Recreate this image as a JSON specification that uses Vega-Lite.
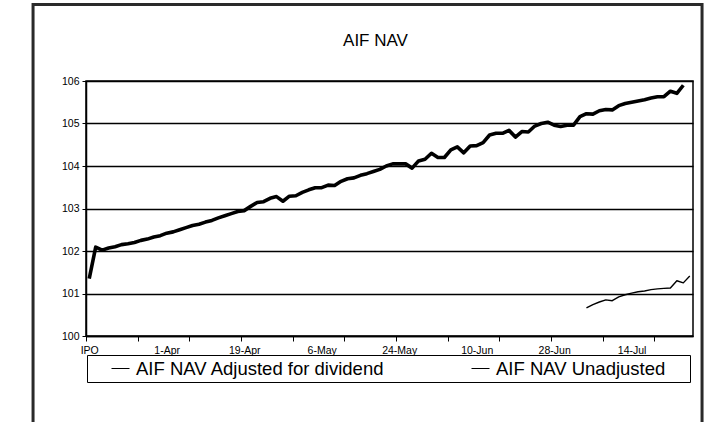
{
  "$schema": "https://vega.github.io/schema/vega-lite/v6.json",
  "autosize": {"type": "none"},
  "width": 607,
  "height": 255,
  "padding": {"left": 86, "top": 81, "right": 13, "bottom": 86},
  "background": "white",
  "config": {
    "font": "Liberation Sans",
    "view": {"stroke": "#000", "strokeWidth": 1.5}
  },
  "title": {
    "text": "AIF NAV",
    "fontSize": 17,
    "fontWeight": "normal",
    "color": "#000",
    "anchor": "middle",
    "baseline": "alphabetic",
    "offset": -60,
    "dx": -14
  },
  "resolve": {"axis": {"x": "independent"}},
  "datasets": {
    "nav": [
      {"series": "AIF NAV Adjusted for dividend", "i": 0, "nav": 101.35},
      {"series": "AIF NAV Adjusted for dividend", "i": 1, "nav": 102.09},
      {"series": "AIF NAV Adjusted for dividend", "i": 2, "nav": 102.02},
      {"series": "AIF NAV Adjusted for dividend", "i": 3, "nav": 102.07},
      {"series": "AIF NAV Adjusted for dividend", "i": 4, "nav": 102.1},
      {"series": "AIF NAV Adjusted for dividend", "i": 5, "nav": 102.15},
      {"series": "AIF NAV Adjusted for dividend", "i": 6, "nav": 102.17},
      {"series": "AIF NAV Adjusted for dividend", "i": 7, "nav": 102.2},
      {"series": "AIF NAV Adjusted for dividend", "i": 8, "nav": 102.25},
      {"series": "AIF NAV Adjusted for dividend", "i": 9, "nav": 102.28},
      {"series": "AIF NAV Adjusted for dividend", "i": 10, "nav": 102.33},
      {"series": "AIF NAV Adjusted for dividend", "i": 11, "nav": 102.36},
      {"series": "AIF NAV Adjusted for dividend", "i": 12, "nav": 102.42},
      {"series": "AIF NAV Adjusted for dividend", "i": 13, "nav": 102.45},
      {"series": "AIF NAV Adjusted for dividend", "i": 14, "nav": 102.5},
      {"series": "AIF NAV Adjusted for dividend", "i": 15, "nav": 102.55},
      {"series": "AIF NAV Adjusted for dividend", "i": 16, "nav": 102.6},
      {"series": "AIF NAV Adjusted for dividend", "i": 17, "nav": 102.63},
      {"series": "AIF NAV Adjusted for dividend", "i": 18, "nav": 102.68},
      {"series": "AIF NAV Adjusted for dividend", "i": 19, "nav": 102.72},
      {"series": "AIF NAV Adjusted for dividend", "i": 20, "nav": 102.78},
      {"series": "AIF NAV Adjusted for dividend", "i": 21, "nav": 102.83},
      {"series": "AIF NAV Adjusted for dividend", "i": 22, "nav": 102.88},
      {"series": "AIF NAV Adjusted for dividend", "i": 23, "nav": 102.93},
      {"series": "AIF NAV Adjusted for dividend", "i": 24, "nav": 102.95},
      {"series": "AIF NAV Adjusted for dividend", "i": 25, "nav": 103.05},
      {"series": "AIF NAV Adjusted for dividend", "i": 26, "nav": 103.14},
      {"series": "AIF NAV Adjusted for dividend", "i": 27, "nav": 103.16},
      {"series": "AIF NAV Adjusted for dividend", "i": 28, "nav": 103.24},
      {"series": "AIF NAV Adjusted for dividend", "i": 29, "nav": 103.28},
      {"series": "AIF NAV Adjusted for dividend", "i": 30, "nav": 103.17},
      {"series": "AIF NAV Adjusted for dividend", "i": 31, "nav": 103.29},
      {"series": "AIF NAV Adjusted for dividend", "i": 32, "nav": 103.3},
      {"series": "AIF NAV Adjusted for dividend", "i": 33, "nav": 103.38},
      {"series": "AIF NAV Adjusted for dividend", "i": 34, "nav": 103.44},
      {"series": "AIF NAV Adjusted for dividend", "i": 35, "nav": 103.49},
      {"series": "AIF NAV Adjusted for dividend", "i": 36, "nav": 103.49},
      {"series": "AIF NAV Adjusted for dividend", "i": 37, "nav": 103.55},
      {"series": "AIF NAV Adjusted for dividend", "i": 38, "nav": 103.54},
      {"series": "AIF NAV Adjusted for dividend", "i": 39, "nav": 103.64},
      {"series": "AIF NAV Adjusted for dividend", "i": 40, "nav": 103.7},
      {"series": "AIF NAV Adjusted for dividend", "i": 41, "nav": 103.72},
      {"series": "AIF NAV Adjusted for dividend", "i": 42, "nav": 103.78},
      {"series": "AIF NAV Adjusted for dividend", "i": 43, "nav": 103.82},
      {"series": "AIF NAV Adjusted for dividend", "i": 44, "nav": 103.87},
      {"series": "AIF NAV Adjusted for dividend", "i": 45, "nav": 103.92},
      {"series": "AIF NAV Adjusted for dividend", "i": 46, "nav": 104.0},
      {"series": "AIF NAV Adjusted for dividend", "i": 47, "nav": 104.05},
      {"series": "AIF NAV Adjusted for dividend", "i": 48, "nav": 104.05},
      {"series": "AIF NAV Adjusted for dividend", "i": 49, "nav": 104.05},
      {"series": "AIF NAV Adjusted for dividend", "i": 50, "nav": 103.95},
      {"series": "AIF NAV Adjusted for dividend", "i": 51, "nav": 104.12},
      {"series": "AIF NAV Adjusted for dividend", "i": 52, "nav": 104.16},
      {"series": "AIF NAV Adjusted for dividend", "i": 53, "nav": 104.3},
      {"series": "AIF NAV Adjusted for dividend", "i": 54, "nav": 104.2},
      {"series": "AIF NAV Adjusted for dividend", "i": 55, "nav": 104.2},
      {"series": "AIF NAV Adjusted for dividend", "i": 56, "nav": 104.38},
      {"series": "AIF NAV Adjusted for dividend", "i": 57, "nav": 104.45},
      {"series": "AIF NAV Adjusted for dividend", "i": 58, "nav": 104.31},
      {"series": "AIF NAV Adjusted for dividend", "i": 59, "nav": 104.47},
      {"series": "AIF NAV Adjusted for dividend", "i": 60, "nav": 104.48},
      {"series": "AIF NAV Adjusted for dividend", "i": 61, "nav": 104.55},
      {"series": "AIF NAV Adjusted for dividend", "i": 62, "nav": 104.73},
      {"series": "AIF NAV Adjusted for dividend", "i": 63, "nav": 104.77},
      {"series": "AIF NAV Adjusted for dividend", "i": 64, "nav": 104.77},
      {"series": "AIF NAV Adjusted for dividend", "i": 65, "nav": 104.84},
      {"series": "AIF NAV Adjusted for dividend", "i": 66, "nav": 104.68},
      {"series": "AIF NAV Adjusted for dividend", "i": 67, "nav": 104.81},
      {"series": "AIF NAV Adjusted for dividend", "i": 68, "nav": 104.8},
      {"series": "AIF NAV Adjusted for dividend", "i": 69, "nav": 104.94},
      {"series": "AIF NAV Adjusted for dividend", "i": 70, "nav": 105.0},
      {"series": "AIF NAV Adjusted for dividend", "i": 71, "nav": 105.03},
      {"series": "AIF NAV Adjusted for dividend", "i": 72, "nav": 104.96},
      {"series": "AIF NAV Adjusted for dividend", "i": 73, "nav": 104.93},
      {"series": "AIF NAV Adjusted for dividend", "i": 74, "nav": 104.96},
      {"series": "AIF NAV Adjusted for dividend", "i": 75, "nav": 104.96},
      {"series": "AIF NAV Adjusted for dividend", "i": 76, "nav": 105.16},
      {"series": "AIF NAV Adjusted for dividend", "i": 77, "nav": 105.23},
      {"series": "AIF NAV Adjusted for dividend", "i": 78, "nav": 105.22},
      {"series": "AIF NAV Adjusted for dividend", "i": 79, "nav": 105.3},
      {"series": "AIF NAV Adjusted for dividend", "i": 80, "nav": 105.33},
      {"series": "AIF NAV Adjusted for dividend", "i": 81, "nav": 105.32},
      {"series": "AIF NAV Adjusted for dividend", "i": 82, "nav": 105.42},
      {"series": "AIF NAV Adjusted for dividend", "i": 83, "nav": 105.47},
      {"series": "AIF NAV Adjusted for dividend", "i": 84, "nav": 105.5},
      {"series": "AIF NAV Adjusted for dividend", "i": 85, "nav": 105.53},
      {"series": "AIF NAV Adjusted for dividend", "i": 86, "nav": 105.56},
      {"series": "AIF NAV Adjusted for dividend", "i": 87, "nav": 105.6},
      {"series": "AIF NAV Adjusted for dividend", "i": 88, "nav": 105.63},
      {"series": "AIF NAV Adjusted for dividend", "i": 89, "nav": 105.63},
      {"series": "AIF NAV Adjusted for dividend", "i": 90, "nav": 105.76},
      {"series": "AIF NAV Adjusted for dividend", "i": 91, "nav": 105.71},
      {"series": "AIF NAV Adjusted for dividend", "i": 92, "nav": 105.9},
      {"series": "AIF NAV Unadjusted", "i": 77, "nav": 100.66},
      {"series": "AIF NAV Unadjusted", "i": 78, "nav": 100.74},
      {"series": "AIF NAV Unadjusted", "i": 79, "nav": 100.8},
      {"series": "AIF NAV Unadjusted", "i": 80, "nav": 100.85},
      {"series": "AIF NAV Unadjusted", "i": 81, "nav": 100.83},
      {"series": "AIF NAV Unadjusted", "i": 82, "nav": 100.92},
      {"series": "AIF NAV Unadjusted", "i": 83, "nav": 100.97},
      {"series": "AIF NAV Unadjusted", "i": 84, "nav": 101.01},
      {"series": "AIF NAV Unadjusted", "i": 85, "nav": 101.04},
      {"series": "AIF NAV Unadjusted", "i": 86, "nav": 101.06},
      {"series": "AIF NAV Unadjusted", "i": 87, "nav": 101.09},
      {"series": "AIF NAV Unadjusted", "i": 88, "nav": 101.11},
      {"series": "AIF NAV Unadjusted", "i": 89, "nav": 101.12},
      {"series": "AIF NAV Unadjusted", "i": 90, "nav": 101.13},
      {"series": "AIF NAV Unadjusted", "i": 91, "nav": 101.3},
      {"series": "AIF NAV Unadjusted", "i": 92, "nav": 101.25},
      {"series": "AIF NAV Unadjusted", "i": 93, "nav": 101.41}
    ]
  },
  "layer": [
    {
      "data": {"values": [{}]},
      "mark": {"type": "rect", "fill": null, "stroke": "#2a2a2a", "strokeWidth": 3, "clip": false},
      "encoding": {
        "x": {
          "datum": -8.7,
          "type": "quantitative",
          "scale": {"domain": [-0.5, 93.5], "nice": false, "zero": false},
          "axis": {
            "orient": "bottom",
            "title": null,
            "values": [-0.5, 7.5, 15.5, 23.5, 31.5, 39.5, 47.5, 55.5, 63.5, 71.5, 79.5, 87.5],
            "labels": false,
            "domain": false,
            "grid": false,
            "ticks": true,
            "tickSize": 5,
            "tickColor": "#000",
            "tickWidth": 1
          }
        },
        "x2": {"datum": 94.9},
        "y": {"datum": 107.8, "type": "quantitative", "title": null, "scale": {"domain": [100, 106], "nice": false, "zero": false}},
        "y2": {"datum": 96}
      }
    },
    {
      "data": {"name": "nav"},
      "transform": [{"filter": "datum.series == 'AIF NAV Unadjusted'"}],
      "mark": {"type": "line", "strokeJoin": "round", "strokeWidth": 1.4, "clip": true},
      "encoding": {
        "x": {
          "field": "i",
          "type": "quantitative",
          "title": null,
          "scale": {"domain": [-0.5, 93.5], "nice": false, "zero": false},
          "axis": {
            "orient": "bottom",
            "values": [0, 12, 24, 36, 48, 60, 72, 84],
            "labelExpr": "datum.value == 0 ? 'IPO' : datum.value == 12 ? '1-Apr' : datum.value == 24 ? '19-Apr' : datum.value == 36 ? '6-May' : datum.value == 48 ? '24-May' : datum.value == 60 ? '10-Jun' : datum.value == 72 ? '28-Jun' : '14-Jul'",
            "ticks": false,
            "domainColor": "#000",
            "domainWidth": 1.5,
            "labelFontSize": 10.5,
            "labelColor": "#000",
            "labelPadding": 9,
            "labelOverlap": false,
            "labelFlush": false,
            "grid": false
          }
        },
        "y": {
          "field": "nav",
          "type": "quantitative",
          "title": null,
          "scale": {"domain": [100, 106], "nice": false, "zero": false},
          "axis": {
            "values": [100, 101, 102, 103, 104, 105, 106],
            "grid": true,
            "gridColor": "#000",
            "gridWidth": 1.4,
            "gridOpacity": 1,
            "tickSize": 4,
            "tickColor": "#000",
            "domainColor": "#000",
            "domainWidth": 1.5,
            "labelFontSize": 10.5,
            "labelColor": "#000",
            "labelPadding": 3
          }
        },
        "color": {
          "field": "series",
          "type": "nominal",
          "scale": {"domain": ["AIF NAV Adjusted for dividend", "AIF NAV Unadjusted"], "range": ["#000", "#000"]},
          "legend": {
            "title": null,
            "orient": "none",
            "legendX": 1,
            "legendY": 274,
            "direction": "horizontal",
            "columns": 2,
            "symbolType": "stroke",
            "symbolSize": 324,
            "symbolStrokeWidth": 1,
            "symbolOffset": 20,
            "labelOffset": 6,
            "labelFontSize": 18.5,
            "labelColor": "#000",
            "labelLimit": 400,
            "columnPadding": 66,
            "labelExpr": "datum.label == 'AIF NAV Unadjusted' ? datum.label + '\u00a0\u00a0\u00a0\u00a0\u200b' : datum.label",
            "padding": 4,
            "strokeColor": "#000",
            "fillColor": "#fff"
          }
        }
      }
    },
    {
      "data": {"name": "nav"},
      "transform": [{"filter": "datum.series == 'AIF NAV Adjusted for dividend'"}],
      "mark": {"type": "line", "strokeJoin": "round", "strokeWidth": 3.6, "clip": true},
      "encoding": {
        "x": {"field": "i", "type": "quantitative", "axis": null, "scale": {"domain": [-0.5, 93.5], "nice": false, "zero": false}},
        "y": {"field": "nav", "type": "quantitative", "title": null, "scale": {"domain": [100, 106], "nice": false, "zero": false}},
        "color": {"field": "series", "type": "nominal"}
      }
    }
  ]
}
